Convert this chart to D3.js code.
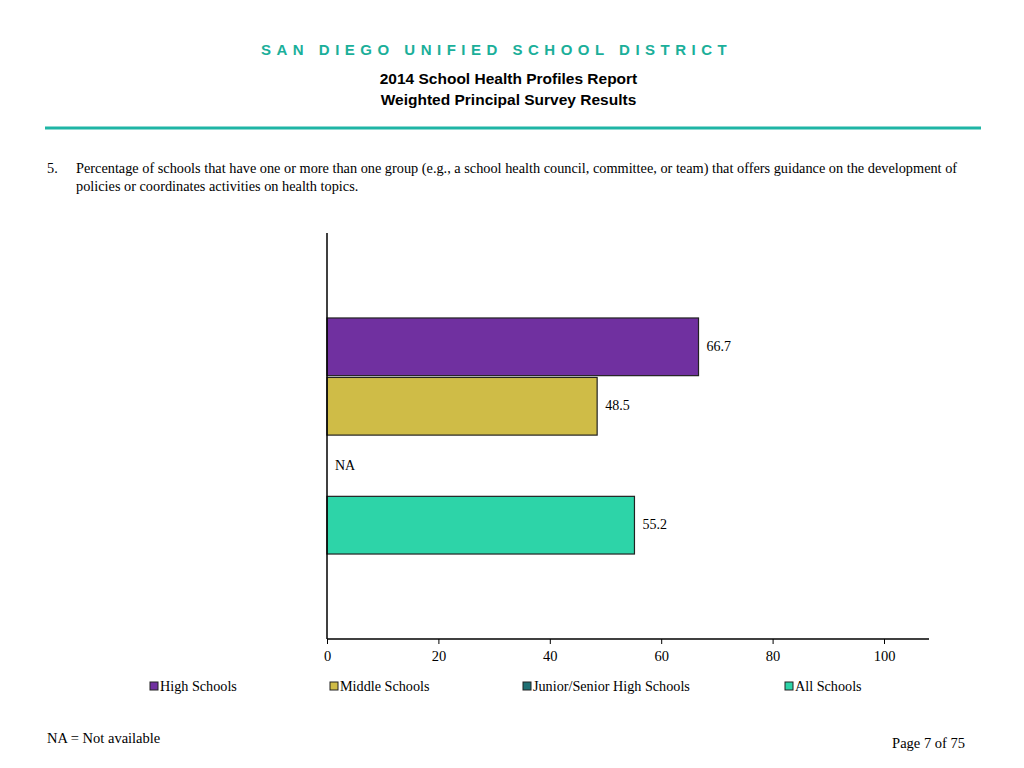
<!DOCTYPE html>
<html><head><meta charset="utf-8">
<script src="https://cdn.jsdelivr.net/npm/d3@7/dist/d3.min.js"></script>
<style>body{margin:0;background:#fff}svg{display:block}</style>
</head><body>
<script>
const seriesNames = ["High Schools","Middle Schools","Junior/Senior High Schools","All Schools"];
const seriesValues = [66.7, 48.5, null, 55.2];
const seriesColors = ["#7030A0","#CFBC47","#1F6F73","#2DD4A8"];
const xTicks = [0,20,40,60,80,100];
const legendX = [150,330,523,785];

const W=1024,H=768;
const svg=d3.select("body").append("svg").attr("width",W).attr("height",H);

svg.append("text").attr("x",261).attr("y",55)
  .attr("font-family","Liberation Sans, Arial").attr("font-weight","bold").attr("font-size",15)
  .attr("letter-spacing","5.5px").attr("fill","#1BAF9A").text("SAN DIEGO UNIFIED SCHOOL DISTRICT");
svg.append("text").attr("x",508.5).attr("y",84).attr("text-anchor","middle")
  .attr("font-family","Liberation Sans, Arial").attr("font-weight","bold").attr("font-size",15.5)
  .text("2014 School Health Profiles Report");
svg.append("text").attr("x",508.5).attr("y",105).attr("text-anchor","middle")
  .attr("font-family","Liberation Sans, Arial").attr("font-weight","bold").attr("font-size",15.5)
  .text("Weighted Principal Survey Results");
svg.append("line").attr("x1",45).attr("x2",981).attr("y1",128).attr("y2",128)
  .attr("stroke","#1FB5A5").attr("stroke-width",3);

const tf="Liberation Serif, Times New Roman, serif";
svg.append("text").attr("x",47).attr("y",173).attr("font-family",tf).attr("font-size",14.3).text("5.");
svg.append("text").attr("x",76).attr("y",173).attr("font-family",tf).attr("font-size",14.3)
  .text("Percentage of schools that have one or more than one group (e.g., a school health council, committee, or team) that offers guidance on the development of");
svg.append("text").attr("x",76).attr("y",191).attr("font-family",tf).attr("font-size",14.3)
  .text("policies or coordinates activities on health topics.");

const x=d3.scaleLinear().domain([0,100]).range([327,884]);
const y0=d3.scaleBand().domain(["q"]).range([233,639]).paddingInner(0).paddingOuter(0.36);
const y1=d3.scaleBand().domain(seriesNames).range([0,y0.bandwidth()]).paddingInner(0.03);

const g=svg.append("g");
seriesNames.forEach((s,i)=>{
  const v=seriesValues[i];
  const yy=y0("q")+y1(s);
  if(v!=null){
    g.append("rect").attr("x",x(0)).attr("y",yy).attr("width",x(v)-x(0)).attr("height",y1.bandwidth())
      .attr("fill",seriesColors[i]).attr("stroke","#222").attr("stroke-width",1.2);
    g.append("text").attr("x",x(v)+8).attr("y",yy+y1.bandwidth()/2+4).attr("font-family",tf)
      .attr("font-size",14).text(v.toFixed(1));
  } else {
    g.append("text").attr("x",x(0)+8).attr("y",yy+y1.bandwidth()/2+4).attr("font-family",tf)
      .attr("font-size",14).text("NA");
  }
});

// axes
svg.append("line").attr("x1",327).attr("x2",327).attr("y1",233).attr("y2",639).attr("stroke","#000").attr("stroke-width",1.5);
const ax=svg.append("g").attr("transform","translate(0,639)")
  .call(d3.axisBottom(x).tickValues(xTicks).tickSize(5).tickFormat(d3.format("d")));
ax.select(".domain").remove();
ax.append("line").attr("x1",327).attr("x2",929).attr("y1",0).attr("y2",0).attr("stroke","#000").attr("stroke-width",1.5);
ax.selectAll("text").attr("font-family",tf).attr("font-size",14.5).attr("fill","#000").attr("dy","0.95em");

// legend
seriesNames.forEach((s,i)=>{
  svg.append("rect").attr("x",legendX[i]).attr("y",682).attr("width",8).attr("height",8)
    .attr("fill",seriesColors[i]).attr("stroke","#222").attr("stroke-width",1);
  svg.append("text").attr("x",legendX[i]+10).attr("y",691).attr("font-family",tf).attr("font-size",14.2).text(s);
});

svg.append("text").attr("x",47).attr("y",743).attr("font-family",tf).attr("font-size",14.5).text("NA = Not available");
svg.append("text").attr("x",965).attr("y",748).attr("text-anchor","end").attr("font-family",tf).attr("font-size",14.5).text("Page 7 of 75");
</script>
</body></html>
